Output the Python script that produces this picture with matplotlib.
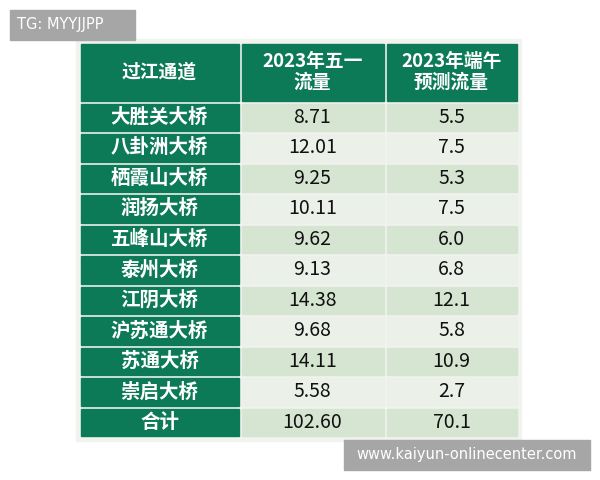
import matplotlib
matplotlib.use("Agg")
import matplotlib.pyplot as plt
from matplotlib.patches import Rectangle

plt.rcParams['font.family'] = ['Noto Sans CJK SC', 'DejaVu Sans']

headers = ["过江通道", "2023年五一\n流量", "2023年端午\n预测流量"]
bridges = ["大胜关大桥", "八卦洲大桥", "栖霞山大桥", "润扬大桥", "五峰山大桥",
           "泰州大桥", "江阴大桥", "沪苏通大桥", "苏通大桥", "崇启大桥", "合计"]
may_day = ["8.71", "12.01", "9.25", "10.11", "9.62", "9.13", "14.38", "9.68", "14.11", "5.58", "102.60"]
dragon = ["5.5", "7.5", "5.3", "7.5", "6.0", "6.8", "12.1", "5.8", "10.9", "2.7", "70.1"]

fig = plt.figure(figsize=(6, 4.8), dpi=100)
ax = fig.add_axes([0, 0, 1, 1])
ax.set_xlim(0, 600); ax.set_ylim(480, 0); ax.axis('off')

GREEN = "#0c7a56"
C1 = "#d6e5d2"; C2 = "#ebf1e9"
xs = [79, 240, 385, 518]
y0, hh, rh = 42, 60, 30.5
ax.add_patch(Rectangle((76, 39), 445, 3 + hh + rh * len(bridges) + 3, color="#f0f3ee", zorder=0))
gap = 1.5

def cell(x0, x1, y, h, fc, txt, tc, fs, bold=False):
    ax.add_patch(Rectangle((x0 + gap, y + gap), x1 - x0 - 2 * gap, h - 2 * gap, color=fc, zorder=1))
    ax.text((x0 + x1) / 2, y + h / 2, txt, color=tc, fontsize=fs, ha='center', va='center',
            fontweight='bold' if bold else 'normal', linespacing=1.15, zorder=2)

for j, h in enumerate(headers):
    cell(xs[j], xs[j + 1], y0, hh, GREEN, h, "white", 13.5, bold=True)
for i, b in enumerate(bridges):
    y = y0 + hh + i * rh
    bg = C1 if i % 2 == 0 else C2
    cell(xs[0], xs[1], y, rh, GREEN, b, "white", 14, bold=True)
    cell(xs[1], xs[2], y, rh, bg, may_day[i], "#111111", 14)
    cell(xs[2], xs[3], y, rh, bg, dragon[i], "#111111", 14)

ax.add_patch(Rectangle((10, 10), 125, 30, color="#a6a6a6", zorder=3))
ax.text(17, 25, "TG: MYYJJPP", color="white", fontsize=10.5, va='center', ha='left', family='DejaVu Sans', zorder=4)
ax.add_patch(Rectangle((344, 440), 246, 30, color="#a6a6a6", zorder=3))
ax.text(467, 455, "www.kaiyun-onlinecenter.com", color="white", fontsize=10.5, va='center', ha='center', family='DejaVu Sans', zorder=4)

fig.savefig("out.png", dpi=100)
